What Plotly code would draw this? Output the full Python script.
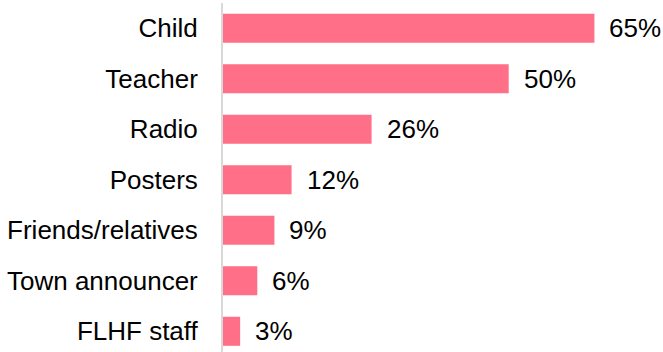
import plotly.graph_objects as go

categories = ["Child", "Teacher", "Radio", "Posters", "Friends/relatives", "Town announcer", "FLHF staff"]
values = [65, 50, 26, 12, 9, 6, 3]
labels = ["65%", "50%", "26%", "12%", "9%", "6%", "3%"]

bar_color = "#FF6F88"
font = "Liberation Sans, Arial, sans-serif"

fig = go.Figure(go.Bar(
    y=categories, x=values, orientation="h",
    marker=dict(color=bar_color, line=dict(width=0)),
    hoverinfo="skip",
))

for c, v, t in zip(categories, values, labels):
    fig.add_annotation(x=v, y=c, text=t, showarrow=False, xanchor="left",
                       xshift=13, font=dict(family=font, size=26, color="#000000"))

fig.update_layout(
    width=663, height=352,
    margin=dict(l=223, r=0, t=3, b=0),
    paper_bgcolor="white", plot_bgcolor="white",
    bargap=0.425,
    showlegend=False,
    font=dict(family=font, size=26, color="#000000"),
)
fig.update_xaxes(range=[0, 77], visible=False, showgrid=False, zeroline=False)
fig.update_yaxes(
    categoryorder="array", categoryarray=categories,
    range=[6.41, -0.5], autorange=False,
    showline=True, linecolor="#D9D9D9", linewidth=2,
    showgrid=False, zeroline=False, ticks="",
    ticklabelstandoff=18,
    tickfont=dict(family=font, size=26, color="#000000"),
)

fig.write_html("out.html")
